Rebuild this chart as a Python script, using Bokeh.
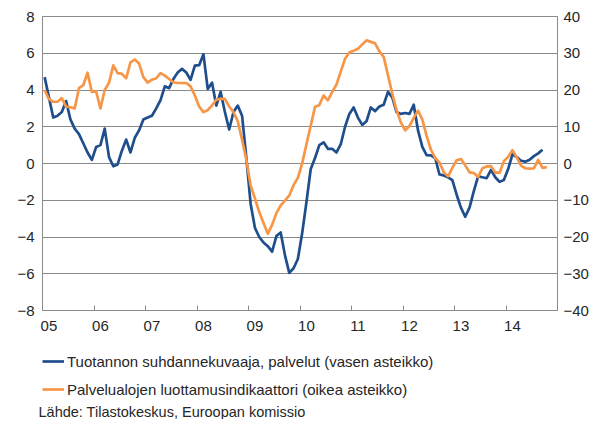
from bokeh.plotting import figure
from bokeh.layouts import column
from bokeh.models import Range1d, LinearAxis, FixedTicker, Legend, LegendItem, Title
from bokeh.embed import file_html
from bokeh.resources import INLINE
import numpy as np

# Monthly data, Jan 2005 onwards
production_services = [  # left axis
    4.7, 3.6, 2.5, 2.6, 2.8, 3.4, 2.4, 1.9, 1.6, 1.1, 0.6, 0.2,          # 2005
    0.9, 1.0, 1.9, 0.35, -0.15, -0.05, 0.7, 1.3, 0.6, 1.4, 1.8, 2.4,      # 2006
    2.5, 2.6, 3.0, 3.45, 4.2, 4.1, 4.6, 4.95, 5.15, 4.95, 4.55, 5.33,     # 2007
    5.35, 5.95, 4.06, 4.4, 3.15, 3.9, 2.8, 1.85, 2.8, 3.15, 2.6, 0.3,     # 2008
    -2.2, -3.5, -4.0, -4.3, -4.5, -4.8, -3.95, -3.75, -5.0, -5.95, -5.7, -5.2,  # 2009
    -3.8, -2.1, -0.3, 0.3, 1.0, 1.15, 0.8, 0.8, 0.6, 1.05, 2.0, 2.7,      # 2010
    3.05, 2.5, 2.1, 2.3, 3.05, 2.85, 3.1, 3.2, 3.9, 3.6, 2.8, 2.7,        # 2011
    2.75, 2.7, 3.2, 1.8, 0.9, 0.45, 0.44, 0.3, -0.6, -0.65, -0.75, -0.9,  # 2012
    -1.7, -2.4, -2.9, -2.4, -1.5, -0.7, -0.75, -0.8, -0.35, -0.75, -1.0, -0.9,  # 2013
    -0.3, 0.5, 0.35, 0.15, 0.1, 0.2, 0.4, 0.55, 0.75,                    # 2014
]
confidence_services = [  # right axis
    20, 17.5, 16.8, 16.8, 17.8, 15.5, 15.3, 15, 20.5, 21.3, 24.7, 19.5,
    19.6, 15, 20, 22, 26.7, 24.6, 24.4, 23.2, 27.5, 28.3, 27.2, 23.5,
    22, 22.8, 23.2, 24.6, 23.9, 23, 22.1, 21.9, 21.9, 21.9, 21, 18.5,
    15.5, 14, 14.5, 15.8, 17.4, 17.6, 17.6, 15.5, 14, 11.5, 6.5, 1,
    -6, -9.5, -13.2, -16.2, -19.1, -16.7, -13.5, -11.4, -10.1, -8.7, -5.9, -3.9,
    0, 5.2, 10.3, 15.4, 15.9, 18.5, 17.2, 19.5, 21.5, 25, 28.5, 30.2,
    30.7, 31.2, 32.4, 33.5, 33.1, 32.7, 30.5, 29, 24, 19, 14.5, 11.2,
    9, 10.2, 12.4, 14.4, 12, 7.5, 3.8, 1.5, 0.3, -2.4, -3.5, -1.2,
    0.9, 1.2, -0.5, -2.4, -2.6, -3.7, -1.3, -0.8, -0.7, -2.5, -2.5, 0.6,
    1.8, 3.6, 1.7, -0.6, -1.3, -1.4, -1.3, 1.0, -1.2, -1.0,
]
year_labels = ["05", "06", "07", "08", "09", "10", "11", "12", "13", "14"]
left_ticks = [-8, -6, -4, -2, 0, 2, 4, 6, 8]
right_ticks = [-40, -30, -20, -10, 0, 10, 20, 30, 40]
legend_labels = [
    "Tuotannon suhdannekuvaaja, palvelut (vasen asteikko)",
    "Palvelualojen luottamusindikaattori (oikea asteikko)",
]
source_text = "Lähde: Tilastokeskus, Euroopan komissio"

BLUE = "#1f4e8c"
ORANGE = "#f79646"
GRID = "#8a8a8a"
TXT = "#262626"
FONT = "Liberation Sans"
LW = 2.7
TICK_FS = "15px"
LEG_FS = "15px"
SRC_FS = "14.5px"

n_months = 12 * len(year_labels)
x_blue = np.arange(len(production_services)) + 0.5
x_orange = np.arange(len(confidence_services)) + 0.5

FIG_W = 42 + 515 + 40

p = figure(frame_width=515, frame_height=294,
           min_border_left=42, min_border_right=40, min_border_top=16, min_border_bottom=30,
           x_range=Range1d(0, n_months), y_range=Range1d(left_ticks[0], left_ticks[-1]),
           output_backend="svg", toolbar_location=None)
p.extra_y_ranges = {"r": Range1d(right_ticks[0], right_ticks[-1])}
p.outline_line_color = GRID
p.outline_line_width = 1
p.background_fill_color = "white"
p.border_fill_color = "white"

# x axis: labels slightly right of year boundary ticks
label_pos = [12 * k + 1.5 for k in range(len(year_labels))]
tick_pos = [12 * k for k in range(1, len(year_labels))]
xa = p.xaxis[0]
xa.ticker = FixedTicker(ticks=label_pos, minor_ticks=tick_pos)
xa.major_label_overrides = {pos: lab for pos, lab in zip(label_pos, year_labels)}
xa.major_tick_in = 0
xa.major_tick_out = 0
xa.minor_tick_in = 5
xa.minor_tick_out = 0
xa.minor_tick_line_color = GRID
xa.axis_line_color = GRID
xa.major_label_standoff = 10
xa.major_label_text_font = FONT
xa.major_label_text_font_size = TICK_FS
xa.major_label_text_color = TXT

ya = p.yaxis[0]
ya.ticker = FixedTicker(ticks=left_ticks)
ya.major_tick_in = 0
ya.major_tick_out = 0
ya.minor_tick_line_color = None
ya.axis_line_color = GRID
ya.major_label_standoff = 8
ya.major_label_text_font = FONT
ya.major_label_text_font_size = TICK_FS
ya.major_label_text_color = TXT

ra = LinearAxis(y_range_name="r", ticker=FixedTicker(ticks=right_ticks))
ra.major_tick_in = 0
ra.major_tick_out = 0
ra.minor_tick_line_color = None
ra.axis_line_color = GRID
ra.major_label_standoff = 6
ra.major_label_text_font = FONT
ra.major_label_text_font_size = TICK_FS
ra.major_label_text_color = TXT
p.add_layout(ra, "right")

p.xgrid.grid_line_color = None
p.ygrid.ticker = FixedTicker(ticks=left_ticks)
p.ygrid.grid_line_color = GRID
p.ygrid.grid_line_width = 1

p.line(x_blue, production_services, line_color=BLUE, line_width=LW, line_join="round")
p.line(x_orange, confidence_services, line_color=ORANGE, line_width=LW,
       line_join="round", y_range_name="r")

# Legend and source note in a second, axis-less figure below the chart
BOT_H = 79
q = figure(width=FIG_W, height=BOT_H, min_border=0,
           x_range=Range1d(0, 1), y_range=Range1d(0, 1),
           x_axis_type=None, y_axis_type=None,
           output_backend="svg", toolbar_location=None)
q.grid.visible = False
q.outline_line_color = None
q.background_fill_color = "white"
q.border_fill_color = "white"
# legend keys only (no visible data)
k1 = q.line(x=[np.nan], y=[np.nan], line_color=BLUE, line_width=LW)
k2 = q.line(x=[np.nan], y=[np.nan], line_color=ORANGE, line_width=LW)

legend = Legend(items=[LegendItem(label=legend_labels[0], renderers=[k1]),
                       LegendItem(label=legend_labels[1], renderers=[k2])],
                location=(0, 2), orientation="vertical",
                padding=0, margin=0, spacing=8, glyph_width=22, glyph_height=20,
                label_height=20, label_standoff=3,
                label_text_font=FONT, label_text_font_size=LEG_FS, label_text_color=TXT,
                border_line_color=None, background_fill_alpha=0)
q.add_layout(legend, "center")

q.add_layout(Title(text=source_text, align="left", offset=-4, standoff=0,
                   text_font=FONT, text_font_size=SRC_FS, text_color=TXT,
                   text_font_style="normal"), "below")

layout = column(p, q, spacing=0)
open("out.html", "w").write(file_html(layout, INLINE))
